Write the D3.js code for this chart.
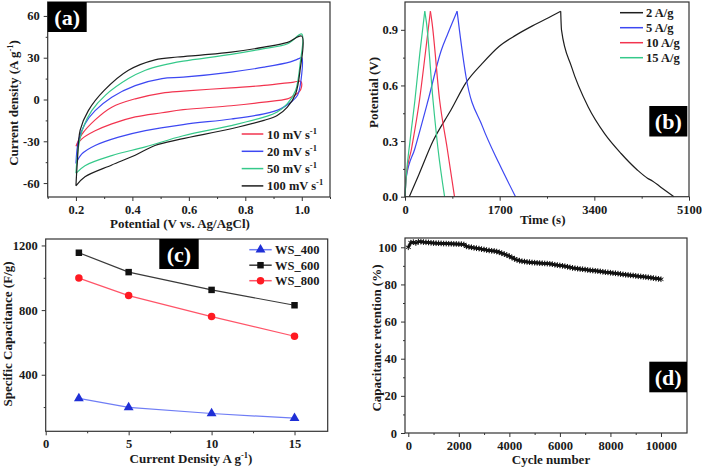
<!DOCTYPE html>
<html><head><meta charset="utf-8">
<script src="https://cdn.jsdelivr.net/npm/d3@7"></script>
<style>
body{margin:0;background:#fff}
svg text{font-family:"Liberation Serif","Times New Roman",serif;font-weight:bold;fill:#1a1a1a}
</style>
</head><body>
<svg id="c" width="702" height="468"></svg>
<script>
// ---------- Panel (a): CV loops [potential V, current A/g] ----------
const cv10 = [[0.2,-33.5],[0.221,-25],[0.268,-14.6],[0.327,-5.5],[0.41,0.5],[0.505,4.6],[0.58,6],[0.75,8.4],[0.866,10.1],[0.972,12.5],[0.997,13],
  [1.0,11],[0.996,7],[0.985,4.5],[0.965,2],[0.949,0.5],[0.866,-1.9],[0.75,-4.5],[0.58,-7.3],[0.505,-9.5],[0.41,-12.5],[0.327,-17.5],[0.268,-22.5],[0.221,-28.3],[0.2,-33.5]];
const cv20 = [[0.2,-46],[0.209,-29.5],[0.232,-17.5],[0.268,-8],[0.327,1.7],[0.41,10],[0.505,15],[0.58,16],[0.75,19.7],[0.866,23.2],[0.96,27],[0.99,29.3],[1.0,30],
  [0.998,15],[0.985,3],[0.961,-2],[0.925,-6.7],[0.866,-10.3],[0.75,-14],[0.58,-18],[0.446,-22.3],[0.351,-27],[0.268,-33],[0.221,-39],[0.2,-46]];
const cv50 = [[0.2,-53],[0.209,-34],[0.226,-20],[0.256,-8],[0.304,3],[0.386,15],[0.446,21],[0.505,24.5],[0.58,27.5],[0.75,32.4],[0.866,36.5],[0.95,40],[1.0,47],
  [0.994,25.7],[0.978,6.5],[0.949,-3],[0.913,-9],[0.866,-12.7],[0.75,-18.7],[0.58,-26],[0.446,-34],[0.327,-40.3],[0.232,-47.5],[0.2,-53]];
const cv100 = [[0.2,-62],[0.205,-45],[0.215,-22],[0.244,-8],[0.30,6.5],[0.386,21],[0.48,28.5],[0.56,30.5],[0.65,32],[0.75,34],[0.866,37.6],[0.95,41],[1.0,45.5],
  [0.994,21],[0.978,4],[0.949,-5.5],[0.913,-11.5],[0.866,-15],[0.75,-21],[0.57,-28.5],[0.48,-33],[0.41,-40],[0.327,-47],[0.232,-55.5],[0.2,-62]];
const cvRates = ["10","20","50","100"];

// ---------- Panel (b): GCD curves [time s, potential V] ----------
const gcd2 = [[77,0],[250,0.12],[503,0.30],[830,0.47],[1096,0.615],[1392,0.72],[1688,0.81],[1985,0.87],[2280,0.92],[2577,0.965],[2796,1.0],
  [2810,0.9],[2991,0.70],[3288,0.485],[3584,0.34],[3880,0.233],[4176,0.143],[4354,0.1],[4443,0.085],[4600,0.05],[4829,0]];
const gcd5 = [[0,0],[20,0.1],[178,0.26],[415,0.52],[652,0.79],[770,0.88],[936,1.0],
  [977,0.9],[1096,0.647],[1392,0.378],[1688,0.18],[1985,0]];
const gcd10 = [[0,0],[20,0.1],[118,0.26],[260,0.52],[360,0.76],[456,1.0],[485,0.94],[622,0.52],[758,0.26],[889,0]];
const gcd15 = [[0,0],[20,0.1],[90,0.3],[178,0.52],[265,0.77],[355,1.0],[385,0.94],[503,0.52],[592,0.26],[711,0]];
const gcdLabels = ["2 A/g","5 A/g","10 A/g","15 A/g"];

// ---------- Panel (c): specific capacitance ----------
const currentDensity = [2,5,10,15];
const ws400 = [254,198,160,131];
const ws600 = [1155,1035,925,830];
const ws800 = [998,890,760,638];
const wsLabels = ["WS_400","WS_600","WS_800"];

// ---------- Panel (d): cycling stability ----------
const cycles = d3.range(0,10001,100);
const retention = [100,102.5,102.8,102.3,103,103,102.8,102.7,102.6,102.4,102.3,102.2,102.2,102.1,102,102,101.9,101.9,101.8,101.8,
  101.7,101.7,101.5,100.5,100.2,100,99.7,99.5,99.3,99,98.8,98.5,98.3,98.1,98,97.7,97.3,96.8,96.3,95.8,
  95.2,94.5,93.8,93.2,92.8,92.5,92.3,92.1,92,91.8,91.7,91.6,91.5,91.4,91.3,91.2,91.1,90.9,90.6,90.4,
  90.2,90,89.8,89.5,89.2,88.9,88.7,88.5,88.3,88.2,88,87.8,87.6,87.5,87.3,87.2,87,86.8,86.6,86.5,
  86.3,86.1,86,85.8,85.6,85.4,85.2,85.1,84.9,84.8,84.6,84.4,84.3,84.1,84,83.8,83.6,83.4,83.2,83,82.8];

// ---------- helpers ----------
const svg = d3.select("#c");
svg.append("rect").attr("width",702).attr("height",468).attr("fill","#fff");
const COL = {red:"#f2344f", blue:"#3d48f2", green:"#35c98a", black:"#1e1e1e"};

function axes(x, y, o){
  const g = svg.append("g");
  const [x0,x1] = x.range(), [yb,yt] = y.range();
  const fx = o.xFmt || (d=>String(d)), fy = o.yFmt || (d=>String(d));
  g.append("g").attr("transform",`translate(0,${yb})`).call(d3.axisBottom(x).tickValues(o.xMinor).tickSize(2).tickFormat(""));
  g.append("g").attr("transform",`translate(0,${yb})`).call(d3.axisBottom(x).tickValues(o.xMajor).tickSize(4).tickPadding(4).tickFormat(fx));
  g.append("g").attr("transform",`translate(${x0},0)`).call(d3.axisLeft(y).tickValues(o.yMinor).tickSize(2).tickFormat(""));
  g.append("g").attr("transform",`translate(${x0},0)`).call(d3.axisLeft(y).tickValues(o.yMajor).tickSize(4).tickPadding(o.yPad||4).tickFormat(fy));
  g.selectAll(".domain").remove();
  g.selectAll(".tick line").attr("stroke","#333");
  g.selectAll(".tick text").filter(function(){return this.textContent==="";}).remove();
  g.selectAll(".tick text").attr("font-size",12.5).attr("font-family",null);
  g.append("rect").attr("x",x0).attr("y",yt).attr("width",x1-x0).attr("height",yb-yt)
    .attr("fill","none").attr("stroke","#333").attr("stroke-width",1.2);
}
function richText(sel, parts){
  let shift = 0;
  parts.forEach(p=>{
    const ts = sel.append("tspan").text(p.t);
    if(p.sup){ ts.attr("dy",-5).attr("font-size",8.5); shift = 5; }
    else { if(shift){ ts.attr("dy",shift); shift = 0; } }
  });
}
function xTitle(cx, by, parts){
  const t = svg.append("text").attr("x",cx).attr("y",by).attr("text-anchor","middle").attr("font-size",13);
  richText(t, parts);
}
function yTitle(bx, cy, parts){
  const t = svg.append("text").attr("transform",`translate(${bx},${cy}) rotate(-90)`).attr("text-anchor","middle").attr("font-size",13);
  richText(t, parts);
}
function tag(x, y, w, h, s){
  svg.append("rect").attr("x",x).attr("y",y).attr("width",w).attr("height",h).attr("fill","#000");
  svg.append("text").attr("x",x+w/2).attr("y",y+h/2+7.5).attr("text-anchor","middle")
    .attr("font-size",22).style("fill","#fff").text(s);
}

// ---------- Panel (a) ----------
{
  const x = d3.scaleLinear().domain([0.1,1.1]).range([47.7,330]);
  const y = d3.scaleLinear().domain([-70,70]).range([197,2]);
  const line = d3.line().x(d=>x(d[0])).y(d=>y(d[1])).curve(d3.curveCatmullRom.alpha(0.5));
  const series = [cv10,cv20,cv50,cv100], cols = [COL.red,COL.blue,COL.green,COL.black];
  series.forEach((s,i)=>svg.append("path").attr("d",line(s)).attr("fill","none").attr("stroke",cols[i]).attr("stroke-width",1.2));
  axes(x,y,{xMajor:[0.2,0.4,0.6,0.8,1.0], xMinor:[0.1,0.3,0.5,0.7,0.9,1.1], yMajor:[-60,-30,0,30,60], yMinor:[-45,-15,15,45], xFmt:d3.format(".1f")});
  tag(47.7,2,39,30,"(a)");
  cvRates.forEach((r,i)=>{
    const cy = 134 + i*17.3;
    svg.append("line").attr("x1",241.7).attr("x2",263.3).attr("y1",cy).attr("y2",cy).attr("stroke",cols[i]).attr("stroke-width",1.5);
    const t = svg.append("text").attr("x",267).attr("y",cy+4.5).attr("font-size",12.5);
    richText(t,[{t:r+" mV s"},{t:"-1",sup:true}]);
  });
  xTitle(180,228,[{t:"Potential (V vs. Ag/AgCl)"}]);
  yTitle(18,103,[{t:"Current density (A g"},{t:"-1",sup:true},{t:")"}]);
}

// ---------- Panel (b) ----------
{
  const x = d3.scaleLinear().domain([0,5100]).range([405,689]);
  const y = d3.scaleLinear().domain([0,1.05]).range([196.7,2]);
  const line = d3.line().x(d=>x(d[0])).y(d=>y(d[1])).curve(d3.curveMonotoneX);
  const series = [gcd2,gcd5,gcd10,gcd15], cols = [COL.black,COL.blue,COL.red,COL.green];
  series.forEach((s,i)=>{
    const peak = d3.maxIndex(s,d=>d[1]);
    svg.append("path").attr("d",line(s.slice(0,peak+1))).attr("fill","none").attr("stroke",cols[i]).attr("stroke-width",1.2);
    svg.append("path").attr("d",line(s.slice(peak))).attr("fill","none").attr("stroke",cols[i]).attr("stroke-width",1.2);
  });
  axes(x,y,{xMajor:[0,1700,3400,5100], xMinor:[850,2550,4250], yMajor:[0,0.3,0.6,0.9], yMinor:[0.15,0.45,0.75], yFmt:d3.format(".1f"), yPad:3});
  tag(649.3,106,38,30.5,"(b)");
  gcdLabels.forEach((l,i)=>{
    const cy = 12.7 + i*15;
    svg.append("line").attr("x1",620).attr("x2",643).attr("y1",cy).attr("y2",cy).attr("stroke",cols[i]).attr("stroke-width",1.5);
    svg.append("text").attr("x",646).attr("y",cy+4.5).attr("font-size",12.5).text(l);
  });
  xTitle(542.7,224,[{t:"Time (s)"}]);
  yTitle(377.5,92.5,[{t:"Potential (V)"}]);
}

// ---------- Panel (c) ----------
{
  const x = d3.scaleLinear().domain([0,17]).range([45.7,327.7]);
  const y = d3.scaleLinear().domain([50,1240]).range([431.3,239]);
  const line = d3.line().x(d=>x(d[0])).y(d=>y(d[1]));
  const sets = [ws400,ws600,ws800];
  const lineCols = ["#6f7df5","#3a3a3a","#ff5468"], markCols = ["#1f2fd6","#111","#ff1a22"];
  const syms = [d3.symbolTriangle, d3.symbolSquare, d3.symbolCircle], sizes = [42,42,44];
  sets.forEach((s,i)=>{
    const pts = currentDensity.map((c,j)=>[c,s[j]]);
    svg.append("path").attr("d",line(pts)).attr("fill","none").attr("stroke",lineCols[i]).attr("stroke-width",1.2);
    svg.selectAll(null).data(pts).join("path")
      .attr("transform",d=>`translate(${x(d[0])},${y(d[1])})`)
      .attr("d",d3.symbol(syms[i],sizes[i])).attr("fill",markCols[i]);
  });
  axes(x,y,{xMajor:[0,5,10,15], xMinor:[2.5,7.5,12.5], yMajor:[400,800,1200], yMinor:[200,600,1000]});
  tag(159.3,239,39.4,30,"(c)");
  wsLabels.forEach((l,i)=>{
    const cy = 249.7 + i*15.5;
    svg.append("line").attr("x1",249.3).attr("x2",271.7).attr("y1",cy).attr("y2",cy).attr("stroke",lineCols[i]).attr("stroke-width",1.5);
    svg.append("path").attr("transform",`translate(260.5,${cy})`).attr("d",d3.symbol(syms[i],sizes[i])).attr("fill",markCols[i]);
    svg.append("text").attr("x",275).attr("y",cy+4.5).attr("font-size",12.5).text(l);
  });
  xTitle(191,463,[{t:"Current Density A g"},{t:"-1",sup:true},{t:")"}]);
  yTitle(12,334,[{t:"Specific Capacitance (F/g)"}]);
}

// ---------- Panel (d) ----------
{
  const x = d3.scaleLinear().domain([-130,11030]).range([405,687]);
  const y = d3.scaleLinear().domain([0,105]).range([433,238]);
  const pts = cycles.map((c,i)=>[c,retention[i]]);
  const line = d3.line().x(d=>x(d[0])).y(d=>y(d[1]));
  svg.append("path").attr("d",line(pts)).attr("fill","none").attr("stroke","#111").attr("stroke-width",2.5);
  svg.selectAll(null).data(pts).join("path")
    .attr("transform",d=>`translate(${x(d[0])},${y(d[1])})`)
    .attr("d",d3.symbol(d3.symbolAsterisk,22)).attr("fill","none").attr("stroke","#111").attr("stroke-width",1);
  axes(x,y,{xMajor:[0,2000,4000,6000,8000,10000], xMinor:[1000,3000,5000,7000,9000], yMajor:[0,20,40,60,80,100], yMinor:[10,30,50,70,90]});
  tag(649.3,361.7,37.7,30.6,"(d)");
  xTitle(551,464,[{t:"Cycle number"}]);
  yTitle(381,338,[{t:"Capacitance retention (%)"}]);
}
</script>
</body></html>
